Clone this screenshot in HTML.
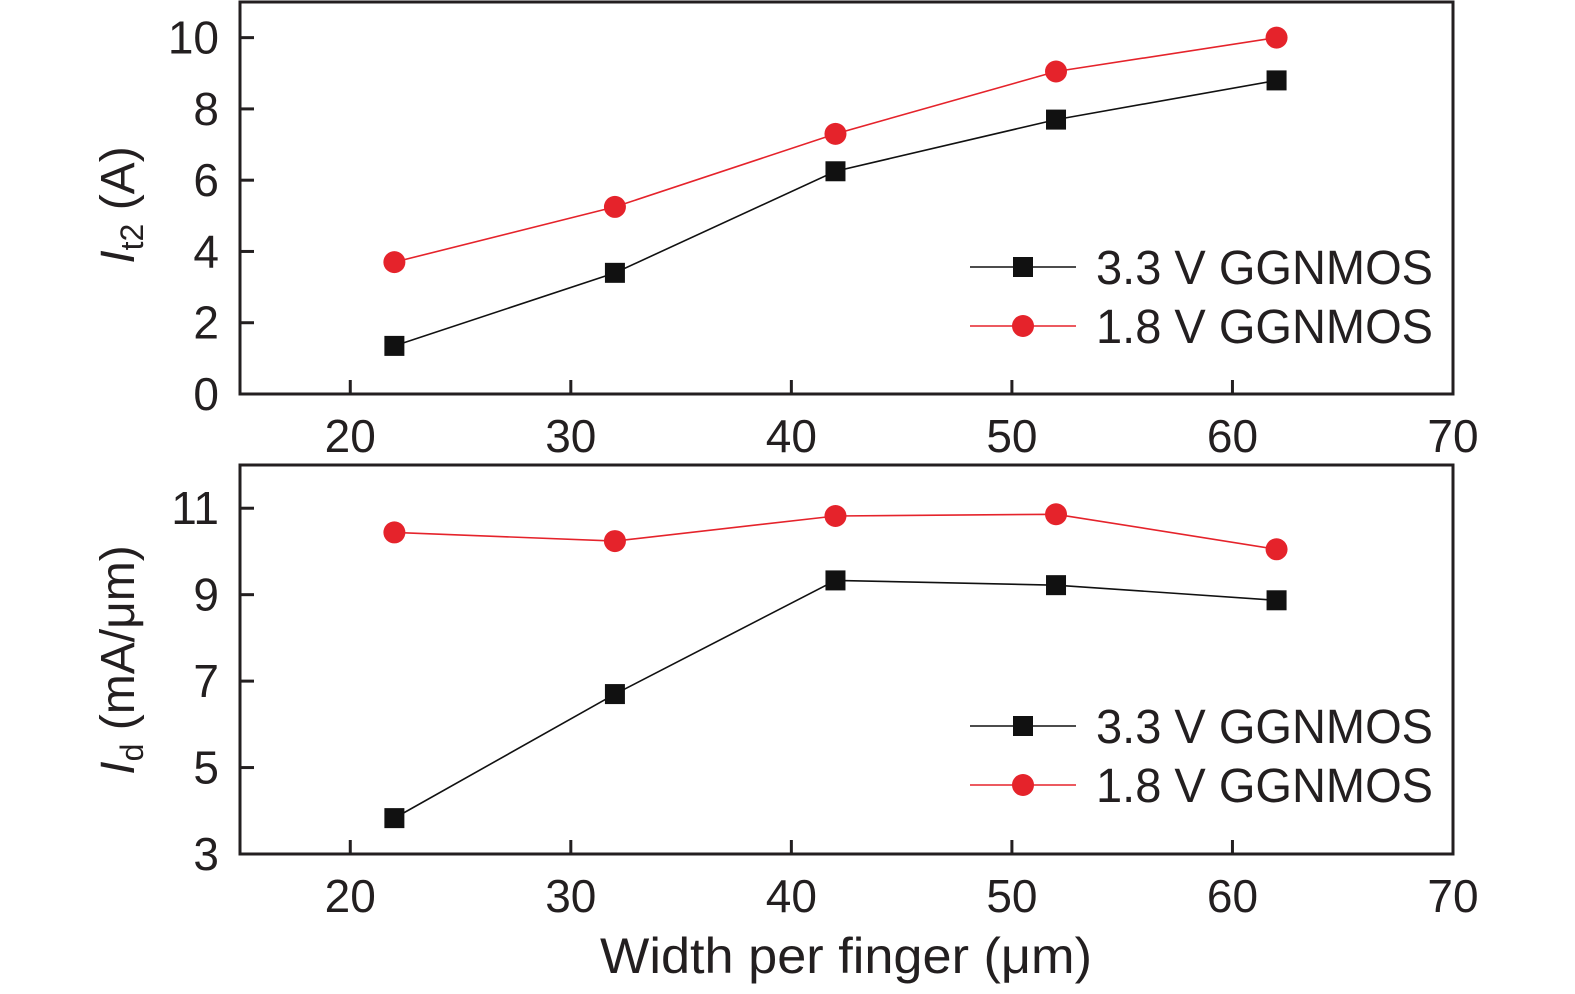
<!DOCTYPE html>
<html><head><meta charset="utf-8"><style>
html,body{margin:0;padding:0;background:#fff;}
svg{display:block;font-family:"Liberation Sans","DejaVu Sans",sans-serif;}
</style></head><body>
<svg id="chart" width="1575" height="994" viewBox="0 0 1575 994"></svg>
<script>
const categories=[22,32,42,52,62];
const it2_33=[1.35,3.4,6.25,7.7,8.8];
const it2_18=[3.7,5.25,7.3,9.05,10.0];
const id_33=[3.83,6.7,9.33,9.22,8.87];
const id_18=[10.44,10.24,10.82,10.86,10.05];
const xTicks=[20,30,40,50,60,70];
const yTicksTop=[0,2,4,6,8,10];
const yTicksBot=[3,5,7,9,11];

const NS="http://www.w3.org/2000/svg";
const svg=document.getElementById('chart');
function mk(tag,attrs,parent){const e=document.createElementNS(NS,tag);for(const k in attrs)e.setAttribute(k,attrs[k]);(parent||svg).appendChild(e);return e;}
const X0=240,X1=1453;
const xs=v=>X0+(v-15)/(70-15)*(X1-X0);

function panel(name,top,bot,ymin,ymax,yTicks,s33,s18,legY,ylabelMain,ylabelSub,ylabelRest,ylabY){
  const g=mk('g',{});
  
  
  const ys=v=>bot-(v-ymin)/(ymax-ymin)*(bot-top);
  const box=mk('rect',{x:X0,y:top,width:X1-X0,height:bot-top,fill:'none',stroke:'#231f20','stroke-width':3},g);
  
  
  xTicks.forEach(t=>{
    const x=xs(t);
    if(t<70){const l=mk('line',{x1:x,x2:x,y1:bot,y2:bot-14,stroke:'#231f20','stroke-width':3},g);
    
    }
    const tx=mk('text',{x:x,y:bot+58,'font-size':46,'text-anchor':'middle',fill:'#231f20'},g);
    tx.textContent=t;
    
    
  });
  yTicks.forEach(t=>{
    const y=ys(t);
    const l=mk('line',{x1:X0,x2:X0+14,y1:y,y2:y,stroke:'#231f20','stroke-width':3},g);
    
    
    const tx=mk('text',{x:219,y:y+16,'font-size':46,'text-anchor':'end',fill:'#231f20'},g);
    tx.textContent=t;
    
    
  });
  function series(vals,color,shape,sname){
    const pts=vals.map((v,i)=>xs(categories[i])+','+ys(v)).join(' ');
    const pl=mk('polyline',{points:pts,fill:'none',stroke:color,'stroke-width':1.6},g);
    
    
    vals.forEach((v,i)=>{
      const cx=xs(categories[i]),cy=ys(v);
      let m;
      if(shape==='sq') m=mk('rect',{x:cx-10,y:cy-10,width:20,height:20,fill:color},g);
      else m=mk('circle',{cx:cx,cy:cy,r:11,fill:color},g);
      
      
    });
  }
  series(s33,'#111','sq','series-3v3');
  series(s18,'#e5232b','ci','series-1v8');
  [[s33,'#111','sq','3.3 V GGNMOS',0],[s18,'#e5232b','ci','1.8 V GGNMOS',59]].forEach(d=>{
    const y=legY+d[4];
    const lg=mk('g',{},g);
    
    
    mk('line',{x1:970,x2:1076,y1:y,y2:y,stroke:d[1],'stroke-width':1.6},lg);
    if(d[2]==='sq') mk('rect',{x:1013,y:y-10,width:20,height:20,fill:d[1]},lg);
    else mk('circle',{cx:1023,cy:y,r:11,fill:d[1]},lg);
    const t=mk('text',{x:1096,y:y+17,'font-size':48,fill:'#231f20',textLength:337,lengthAdjust:'spacingAndGlyphs'},lg);
    t.textContent=d[3];
  });
  const yl=mk('text',{transform:`translate(134,${ylabY}) rotate(-90)`,'font-size':48,'text-anchor':'middle',fill:'#231f20'},g);
  
  
  yl.innerHTML=`<tspan font-style="italic">${ylabelMain}</tspan><tspan font-size="32" dy="9">${ylabelSub}</tspan><tspan dy="-9">${ylabelRest}</tspan>`;
}
panel('top-panel-it2',2,394,0,11,yTicksTop,it2_33,it2_18,267,'I','t2',' (A)',205);
panel('bottom-panel-id',465,854,3,12,yTicksBot,id_33,id_18,726,'I','d',' (mA/μm)',660);
const xl=mk('text',{x:846,y:973,'font-size':50,'text-anchor':'middle',fill:'#231f20',textLength:492,lengthAdjust:'spacingAndGlyphs'});
xl.textContent='Width per finger (μm)';


</script>
</body></html>
